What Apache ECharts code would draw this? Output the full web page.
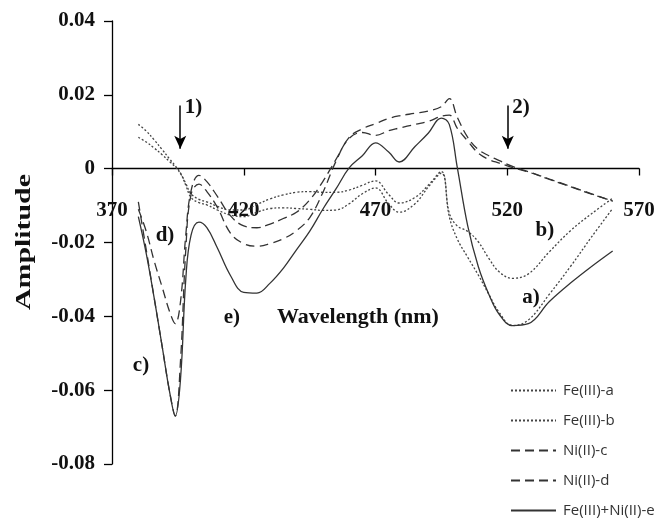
<!DOCTYPE html>
<html><head><meta charset="utf-8">
<script src="https://cdn.jsdelivr.net/npm/echarts@6/dist/echarts.min.js"></script>
<style>html,body{margin:0;padding:0;background:#fff}#c{width:665px;height:518px}</style>
</head><body><div id="c"></div>
<script>
const wavelengths = [380,383,386,389,392,394,396,398,400,403,406,410,415,420,425,430,435,440,445,450,455,460,465,470,475,479,485,490,495,498,501,505,509,513,517,522,528,536,544,552,560];
const feA = [0.012,0.0102,0.0078,0.0052,0.0025,0.0008,-0.0012,-0.0045,-0.0078,-0.0092,-0.0098,-0.0112,-0.0126,-0.013,-0.0118,-0.0108,-0.0106,-0.0108,-0.011,-0.0113,-0.0112,-0.0095,-0.0068,-0.0052,-0.0095,-0.0118,-0.0095,-0.005,-0.0012,-0.013,-0.019,-0.024,-0.0288,-0.034,-0.039,-0.0425,-0.041,-0.034,-0.0265,-0.0185,-0.0108];
const feB = [0.0085,0.0072,0.0056,0.0038,0.0018,0.0005,-0.0013,-0.004,-0.0068,-0.0083,-0.009,-0.0102,-0.0112,-0.0112,-0.0097,-0.0082,-0.0071,-0.0064,-0.0062,-0.0064,-0.0064,-0.0058,-0.0045,-0.0033,-0.007,-0.0093,-0.0078,-0.0045,-0.0008,-0.012,-0.0155,-0.017,-0.0198,-0.0243,-0.028,-0.0297,-0.0285,-0.0225,-0.0168,-0.0122,-0.008];
const niC = [-0.009,-0.022,-0.035,-0.048,-0.061,-0.067,-0.052,-0.022,-0.007,-0.0042,-0.0062,-0.0105,-0.0175,-0.0203,-0.021,-0.0203,-0.019,-0.0168,-0.0133,-0.0065,0.002,0.0085,0.0108,0.0122,0.0136,0.0143,0.015,0.0156,0.0168,0.019,0.014,0.0085,0.0052,0.0035,0.0022,0.0006,-0.0008,-0.0028,-0.0048,-0.0068,-0.0088];
const niD = [-0.011,-0.017,-0.025,-0.032,-0.039,-0.042,-0.036,-0.018,-0.006,-0.0018,-0.0035,-0.0075,-0.0128,-0.0155,-0.016,-0.015,-0.0135,-0.0118,-0.0085,-0.0035,0.0025,0.0082,0.0098,0.009,0.0103,0.011,0.012,0.0128,0.0142,0.0145,0.011,0.0075,0.0042,0.0025,0.0015,0.0003,-0.0009,-0.0029,-0.0049,-0.0069,-0.0088];
const feNiE = [-0.013,-0.023,-0.035,-0.048,-0.061,-0.067,-0.057,-0.03,-0.018,-0.0145,-0.016,-0.0215,-0.029,-0.0335,-0.0337,-0.031,-0.027,-0.022,-0.017,-0.011,-0.0055,0.0002,0.0035,0.007,0.0045,0.0018,0.006,0.0096,0.0137,0.012,0.0005,-0.0155,-0.0265,-0.034,-0.0395,-0.0425,-0.042,-0.036,-0.031,-0.0265,-0.0223];
const seriesNames = ['Fe(III)-a','Fe(III)-b','Ni(II)-c','Ni(II)-d','Fe(III)+Ni(II)-e'];
const curveLabels = [['a)',529,-0.0348],['b)',534.3,-0.0169],['c)',381,-0.0533],['d)',390.1,-0.0182],['e)',415.5,-0.0403]];
const arrowMarks = [['1)',395.9,0.0171,0.0054],['2)',520.2,0.0171,0.0054]];
const xTitle = 'Wavelength (nm)';
const yTitle = 'Amplitude';

const serif = 'Liberation Serif';
const pairs = ys => wavelengths.map((w,i)=>[w,ys[i]]);
const dotted = [2,2], dashed = [9,5];
const styles = [
  {type:dotted,color:'#444'},{type:dotted,color:'#444'},
  {type:dashed,color:'#333'},{type:dashed,color:'#333'},
  {type:'solid',color:'#333'}];
const allData = [feA,feB,niC,niD,feNiE];
const series = allData.map((d,i)=>({
  name: seriesNames[i], type:'line', data: pairs(d), smooth:0.4, symbol:'none',
  lineStyle:{width:1.3,type:styles[i].type,color:styles[i].color},
  itemStyle:{color:styles[i].color}, z: 3
}));
series.push({
  type:'line', data:[], silent:true, z:5,
  markLine:{silent:true, symbol:['none','arrow'], symbolSize:[9,13],
    lineStyle:{type:'solid',color:'#000',width:1.5}, label:{show:false},
    data: arrowMarks.map(a=>[{coord:[a[1],a[2]]},{coord:[a[1],a[3]]}])},
  markPoint:{silent:true, symbol:'circle', symbolSize:0,
    label:{show:true, position:'inside', fontFamily:serif, fontWeight:'bold', fontSize:21, color:'#111', formatter:p=>p.name},
    data: curveLabels.map(c=>({name:c[0],coord:[c[1],c[2]]}))
      .concat(arrowMarks.map(a=>({name:a[0],coord:[a[1]+5,a[2]-0.0005]})))}
});

const chart = echarts.init(document.getElementById('c'));
chart.setOption({
  animation:false, backgroundColor:'#fff',
  grid:{left:112,right:26,top:21,bottom:54, outerBoundsMode:'none', containLabel:false},
  legend:{orient:'vertical', left:505, top:378, height:200, itemWidth:45, itemHeight:14, itemGap:15,
    itemStyle:{opacity:0},
    data:seriesNames, textStyle:{fontFamily:'Open Sans', fontSize:15, lineHeight:14, color:'#333', padding:[0,0,0,2]}},
  xAxis:{type:'value', min:370, max:570, interval:50, offset:-295.5,
    axisLine:{onZero:false, lineStyle:{color:'#000',width:1.3}},
    axisTick:{show:true, length:7, lineStyle:{color:'#000',width:1.3}},
    axisLabel:{margin:32, fontFamily:serif, fontWeight:'bold', fontSize:21, color:'#111'},
    splitLine:{show:false}},
  yAxis:{type:'value', min:-0.08, max:0.04, interval:0.02,
    axisLine:{show:true, lineStyle:{color:'#000',width:1.3}},
    axisTick:{show:true, length:8, lineStyle:{color:'#000',width:1.3}},
    axisLabel:{margin:17, fontFamily:serif, fontWeight:'bold', fontSize:21, color:'#111',
      formatter:v=> v===0 ? '0' : v.toFixed(2)},
    splitLine:{show:false}},
  graphic:[
    {type:'text', left:277, top:306, style:{text:xTitle, font:'bold 22px "Liberation Serif"', fill:'#111'}},
    {type:'text', x:25, y:242, rotation:Math.PI/2, scaleX:1.42,
      style:{text:yTitle, font:'bold 21px "Liberation Serif"', fill:'#111', align:'center', verticalAlign:'middle'}}
  ],
  series: series
});
</script></body></html>
